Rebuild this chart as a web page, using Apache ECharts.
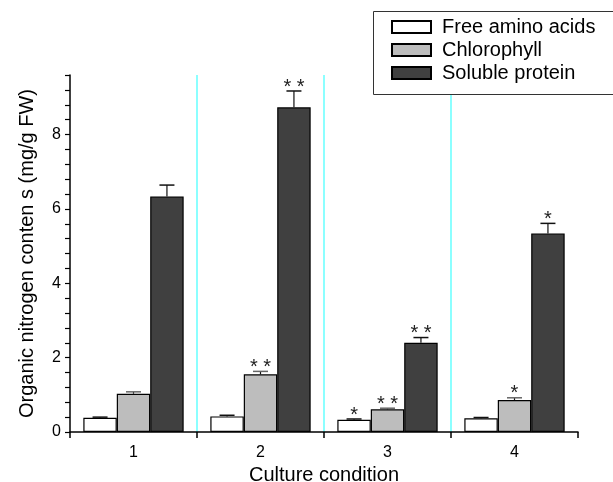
<!DOCTYPE html>
<html>
<head>
<meta charset="utf-8">
<script src="https://cdn.jsdelivr.net/npm/echarts@6/dist/echarts.min.js"></script>
<style>html,body{margin:0;padding:0;background:#fff;}#c{width:613px;height:482px;}</style>
</head>
<body>
<div id="c"></div>
<script>
const categories = ['1', '2', '3', '4'];
const freeAmino = [0.38, 0.42, 0.33, 0.37];
const freeAminoErr = [0.02, 0.03, 0.02, 0.02];
const freeAminoSig = ['', '', '*', ''];
const chlorophyll = [1.03, 1.55, 0.61, 0.86];
const chlorophyllErr = [0.05, 0.08, 0.03, 0.06];
const chlorophyllSig = ['', '**', '**', '*'];
const soluble = [6.33, 8.73, 2.40, 5.34];
const solubleErr = [0.31, 0.44, 0.14, 0.27];
const solubleSig = ['', '**', '**', '*'];
const seriesNames = ['Free amino acids', 'Chlorophyll', 'Soluble protein'];

const FONT = '"Liberation Sans", Arial, sans-serif';
const GAP = 0.21;
const colors = ['#ffffff', '#bdbdbd', '#404040'];

function errSeries(idx, vals, errs, sigs) {
  return {
    type: 'custom',
    z: 5,
    silent: true,
    data: vals.map((v, i) => [i, v, errs[i]]),
    renderItem: function (params, api) {
      const ci = api.value(0), v = api.value(1), e = api.value(2);
      const sig = sigs[ci];
      const catW = api.size([1, 0])[0];
      const barW = catW * (1 - GAP) / 3;
      const base = api.coord([ci, v]);
      const x = base[0] + (idx - 1) * barW;
      const top = api.coord([ci, v + e])[1];
      const capW = 15;
      const capColor = idx === 1 ? '#666' : '#111';
      const children = [
        { type: 'line', shape: { x1: x, y1: base[1], x2: x, y2: top }, style: { stroke: '#111', lineWidth: 1.2 } },
        { type: 'line', shape: { x1: x - capW / 2, y1: top, x2: x + capW / 2, y2: top }, style: { stroke: capColor, lineWidth: 1.5 } }
      ];
      if (sig) {
        children.push({
          type: 'text',
          style: { text: sig.split('').join(' '), x: x, y: top - 4, textAlign: 'center', textVerticalAlign: 'middle', font: '20px ' + FONT, fill: '#222' }
        });
      }
      return { type: 'group', children: children };
    }
  };
}

function barSeries(idx, vals) {
  return {
    name: seriesNames[idx],
    type: 'bar',
    data: vals,
    barGap: '0%',
    barCategoryGap: (GAP * 100) + '%',
    itemStyle: { color: colors[idx], borderColor: '#000', borderWidth: 1.2 }
  };
}

const chart = echarts.init(document.getElementById('c'), null, { renderer: 'canvas' });
chart.setOption({
  animation: false,
  backgroundColor: '#fff',
  grid: { left: 70, right: 35, top: 75, bottom: 50, containLabel: false, outerBoundsMode: 'none' },
  legend: {
    orient: 'vertical',
    left: 386,
    top: 12,
    z: 20,
    itemWidth: 39,
    itemHeight: 12,
    itemGap: 3,
    icon: 'rect',
    textStyle: { fontFamily: FONT, fontSize: 20, color: '#000', lineHeight: 20, padding: [0, 0, 0, 6] },
    data: seriesNames
  },
  graphic: [{
    type: 'rect', left: 373, top: 11, z: 10,
    shape: { width: 260, height: 83 },
    style: { fill: '#fff', stroke: '#333', lineWidth: 1 }
  }],
  xAxis: {
    type: 'category',
    data: categories,
    name: 'Culture condition',
    nameLocation: 'middle',
    nameGap: 31,
    nameTextStyle: { fontFamily: FONT, fontSize: 20, color: '#000' },
    axisLine: { lineStyle: { color: '#000', width: 1.5 } },
    axisTick: { show: true, length: 6, lineStyle: { color: '#000', width: 1.5 } },
    axisLabel: { fontFamily: FONT, fontSize: 16, color: '#000', margin: 13 },
    splitLine: { show: true, showMinLine: false, showMaxLine: false, lineStyle: { color: '#66ffff', width: 1.5 } }
  },
  yAxis: {
    type: 'value',
    min: 0,
    max: 9.6,
    interval: 0.4,
    name: 'Organic nitrogen conten s (mg/g FW)',
    nameLocation: 'middle',
    nameGap: 33,
    nameTextStyle: { fontFamily: FONT, fontSize: 20, color: '#000' },
    axisLine: { show: true, lineStyle: { color: '#000', width: 1.5 } },
    axisTick: { show: true, length: 5, lineStyle: { color: '#000', width: 1.2 } },
    axisLabel: {
      fontFamily: FONT, fontSize: 16, color: '#000', margin: 9,
      formatter: function (v) { const r = v / 2; return Math.abs(r - Math.round(r)) < 1e-6 ? String(Math.round(v)) : ''; }
    },
    splitLine: { show: false }
  },
  series: [
    barSeries(0, freeAmino),
    barSeries(1, chlorophyll),
    barSeries(2, soluble),
    errSeries(0, freeAmino, freeAminoErr, freeAminoSig),
    errSeries(1, chlorophyll, chlorophyllErr, chlorophyllSig),
    errSeries(2, soluble, solubleErr, solubleSig)
  ]
});
</script>
</body>
</html>
